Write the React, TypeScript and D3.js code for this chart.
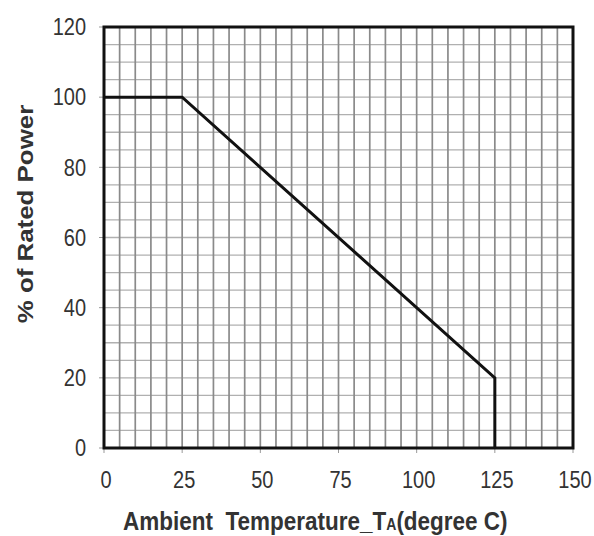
import React from "react";
import * as d3 from "d3";

const tempValues = [0, 25, 125, 125];
const powerValues = [100, 100, 20, 0];
const xTicks = [0, 25, 50, 75, 100, 125, 150];
const yTicks = [0, 20, 40, 60, 80, 100, 120];
const xGrid = d3.range(0, 151, 5);
const yGrid = d3.range(0, 121, 5);

export default function App() {
  const W = 594, H = 536;
  const left = 104, right = 573, top = 27, bottom = 448;
  const x = d3.scaleLinear().domain([0, 150]).range([left, right]);
  const y = d3.scaleLinear().domain([0, 120]).range([bottom, top]);
  const pts = tempValues.map((t, i) => [t, powerValues[i]] as [number, number]);
  const line = d3.line<[number, number]>().x(d => x(d[0])).y(d => y(d[1]));
  const font = "Liberation Sans, Arial, sans-serif";
  const sy = 1.15;
  return (
    <svg width={W} height={H} style={{ position: "absolute", left: 0, top: 0, background: "#fff" }}>
      <rect x={0} y={0} width={W} height={H} fill="#fff" />
      {yGrid.map(v => (
        <line key={"h" + v} x1={left} x2={right} y1={y(v)} y2={y(v)} stroke="#b0b0b0" strokeWidth={1.3} />
      ))}
      {xGrid.map(v => (
        <line key={"v" + v} x1={x(v)} x2={x(v)} y1={top} y2={bottom} stroke="#8a8a8a" strokeWidth={1.7} />
      ))}
      {yTicks.map(v => (
        <line key={"yt" + v} x1={left - 5} x2={left} y1={y(v)} y2={y(v)} stroke="#999" strokeWidth={1} />
      ))}
      {xTicks.map(v => (
        <line key={"xt" + v} x1={x(v)} x2={x(v)} y1={bottom} y2={bottom + 5} stroke="#999" strokeWidth={1} />
      ))}
      <rect x={left} y={top} width={right - left} height={bottom - top} fill="none" stroke="#111" strokeWidth={3} />
      <path d={line(pts) || ""} fill="none" stroke="#111" strokeWidth={3} strokeLinejoin="miter" />
      {yTicks.map(v => (
        <text key={"yl" + v} transform={`translate(86, ${y(v)}) scale(1, ${sy})`} dy="0.36em" textAnchor="end" fontFamily={font} fontSize={20} fill="#333">
          {v}
        </text>
      ))}
      {xTicks.map(v => (
        <text key={"xl" + v} transform={`translate(${x(v) + 2}, 488) scale(1, ${sy})`} textAnchor="middle" fontFamily={font} fontSize={20} fill="#333">
          {v}
        </text>
      ))}
      <text transform={`translate(33, 214) rotate(-90) scale(${sy}, 1)`} textAnchor="middle" fontFamily={font} fontSize={22.5} fontWeight="bold" fill="#333">
        % of Rated Power
      </text>
      <text transform={`translate(123, 530) scale(1, ${sy})`} textAnchor="start" fontFamily={font} fontSize={22.5} fontWeight="bold" fill="#333" xmlSpace="preserve">
        Ambient  Temperature_T<tspan fontSize={14}>A</tspan>(degree C)
      </text>
    </svg>
  );
}
